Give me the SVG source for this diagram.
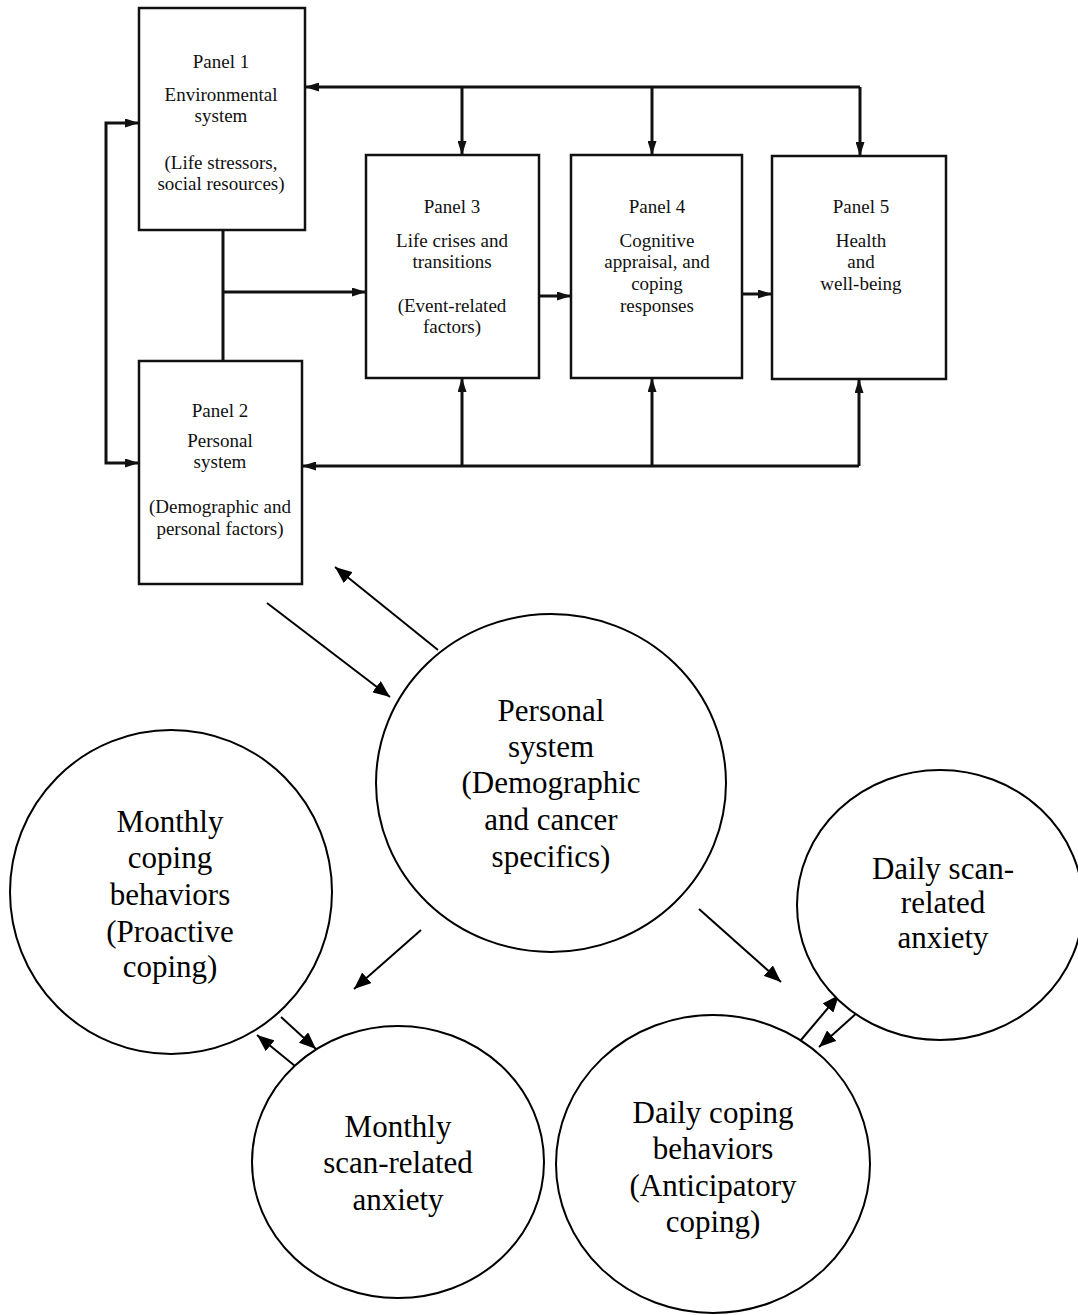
<svg xmlns="http://www.w3.org/2000/svg" width="1078" height="1315" viewBox="0 0 1078 1315">
<defs>
<style>
.box{fill:#fff;stroke:#111;stroke-width:2.5}
.pt{font-family:"Liberation Serif","Times New Roman",serif;font-size:19px;fill:#111;text-anchor:middle}
.ct{font-family:"Liberation Serif","Times New Roman",serif;font-size:31px;fill:#000;text-anchor:middle}
.circ{fill:#fff;stroke:#000;stroke-width:2}
.tc{fill:none;stroke:#111;stroke-width:3}
.bc{fill:none;stroke:#000;stroke-width:2}
</style>
<marker id="ah" viewBox="0 0 14 9" refX="14" refY="4.5" markerWidth="14" markerHeight="9" markerUnits="userSpaceOnUse" orient="auto"><path d="M0,0 L14,4.5 L0,9 z" fill="#111"/></marker>
<marker id="ab" viewBox="0 0 17 14" refX="17" refY="7" markerWidth="17" markerHeight="14" markerUnits="userSpaceOnUse" orient="auto"><path d="M0,0 L17,7 L0,14 z" fill="#000"/></marker>
</defs>
<rect width="1078" height="1315" fill="#fff"/>
<g id="connectors">
<path class="tc" d="M860,87 H305" marker-end="url(#ah)"/>
<path class="tc" d="M462,87 V155" marker-end="url(#ah)"/>
<path class="tc" d="M652,87 V155" marker-end="url(#ah)"/>
<path class="tc" d="M860,87 V156" marker-end="url(#ah)"/>
<path class="tc" d="M106,293 V123 H139" marker-end="url(#ah)"/>
<path class="tc" d="M106,293 V463 H139" marker-end="url(#ah)"/>
<path class="tc" d="M223,230 V361"/>
<path class="tc" d="M223,292 H366" marker-end="url(#ah)"/>
<path class="tc" d="M859,466 H302" marker-end="url(#ah)"/>
<path class="tc" d="M462,466 V378" marker-end="url(#ah)"/>
<path class="tc" d="M652,466 V378" marker-end="url(#ah)"/>
<path class="tc" d="M859,466 V379" marker-end="url(#ah)"/>
<path class="tc" d="M539,296 H571" marker-end="url(#ah)"/>
<path class="tc" d="M742,294 H772" marker-end="url(#ah)"/>
<path class="bc" d="M267,603 L390,697" marker-end="url(#ab)"/>
<path class="bc" d="M438,650 L335,567" marker-end="url(#ab)"/>
<path class="bc" d="M421,930 L354,989" marker-end="url(#ab)"/>
<path class="bc" d="M281,1017 L316,1049" marker-end="url(#ab)"/>
<path class="bc" d="M295,1066 L257,1035" marker-end="url(#ab)"/>
<path class="bc" d="M699,909 L781,982" marker-end="url(#ab)"/>
<path class="bc" d="M801,1040 L839,995" marker-end="url(#ab)"/>
<path class="bc" d="M859,1011 L819,1047" marker-end="url(#ab)"/>
</g>
<g id="panel1">
<rect class="box" x="139" y="8" width="166" height="222"/>
<text class="pt" x="221" y="68">Panel 1</text>
<text class="pt" x="221" y="101">Environmental</text>
<text class="pt" x="221" y="122">system</text>
<text class="pt" x="221" y="169">(Life stressors,</text>
<text class="pt" x="221" y="190">social resources)</text>
</g>
<g id="panel2">
<rect class="box" x="139" y="361" width="163" height="223"/>
<text class="pt" x="220" y="417">Panel 2</text>
<text class="pt" x="220" y="447">Personal</text>
<text class="pt" x="220" y="468">system</text>
<text class="pt" x="220" y="513">(Demographic and</text>
<text class="pt" x="220" y="535">personal factors)</text>
</g>
<g id="panel3">
<rect class="box" x="366" y="155" width="173" height="223"/>
<text class="pt" x="452" y="213">Panel 3</text>
<text class="pt" x="452" y="247">Life crises and</text>
<text class="pt" x="452" y="268">transitions</text>
<text class="pt" x="452" y="312">(Event-related</text>
<text class="pt" x="452" y="333">factors)</text>
</g>
<g id="panel4">
<rect class="box" x="571" y="155" width="171" height="223"/>
<text class="pt" x="657" y="213">Panel 4</text>
<text class="pt" x="657" y="247">Cognitive</text>
<text class="pt" x="657" y="268">appraisal, and</text>
<text class="pt" x="657" y="290">coping</text>
<text class="pt" x="657" y="312">responses</text>
</g>
<g id="panel5">
<rect class="box" x="772" y="156" width="174" height="223"/>
<text class="pt" x="861" y="213">Panel 5</text>
<text class="pt" x="861" y="247">Health</text>
<text class="pt" x="861" y="268">and</text>
<text class="pt" x="861" y="290">well-being</text>
</g>
<g id="personal-system">
<ellipse class="circ" cx="551" cy="783" rx="175" ry="169"/>
<text class="ct" x="551" y="721">Personal</text>
<text class="ct" x="551" y="757">system</text>
<text class="ct" x="551" y="793">(Demographic</text>
<text class="ct" x="551" y="830">and cancer</text>
<text class="ct" x="551" y="867">specifics)</text>
</g>
<g id="monthly-coping">
<ellipse class="circ" cx="171" cy="892" rx="161" ry="162"/>
<text class="ct" x="170" y="832">Monthly</text>
<text class="ct" x="170" y="868">coping</text>
<text class="ct" x="170" y="905">behaviors</text>
<text class="ct" x="170" y="942">(Proactive</text>
<text class="ct" x="170" y="977">coping)</text>
</g>
<g id="monthly-anxiety">
<ellipse class="circ" cx="398" cy="1162" rx="146" ry="136"/>
<text class="ct" x="398" y="1137">Monthly</text>
<text class="ct" x="398" y="1173">scan-related</text>
<text class="ct" x="398" y="1210">anxiety</text>
</g>
<g id="daily-coping">
<ellipse class="circ" cx="713" cy="1164" rx="157" ry="149"/>
<text class="ct" x="713" y="1123">Daily coping</text>
<text class="ct" x="713" y="1159">behaviors</text>
<text class="ct" x="713" y="1196">(Anticipatory</text>
<text class="ct" x="713" y="1232">coping)</text>
</g>
<g id="daily-anxiety">
<ellipse class="circ" cx="940" cy="905" rx="143" ry="135"/>
<text class="ct" x="943" y="879">Daily scan-</text>
<text class="ct" x="943" y="913">related</text>
<text class="ct" x="943" y="948">anxiety</text>
</g>
</svg>
